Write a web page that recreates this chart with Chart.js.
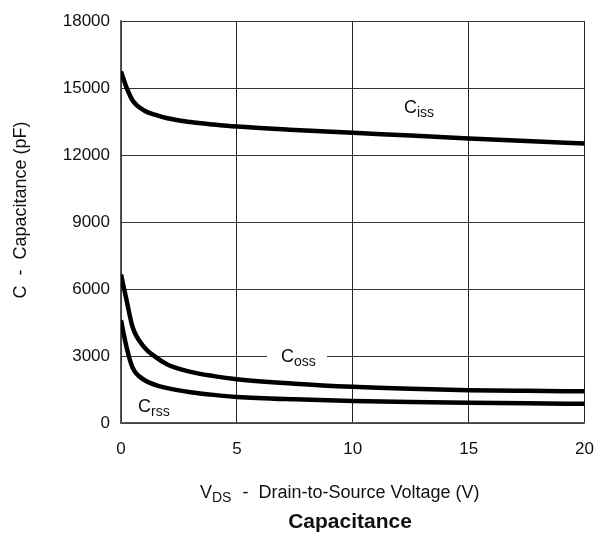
<!DOCTYPE html>
<html>
<head>
<meta charset="utf-8">
<script src="https://cdn.jsdelivr.net/npm/chart.js@4.4.1/dist/chart.umd.min.js"></script>
<style>
  html, body { margin: 0; padding: 0; background: #fff; }
  #wrap { width: 610px; height: 535px; }
</style>
</head>
<body>
<div id="wrap"><canvas id="cap"></canvas></div>
<script>
// tensão dreno-fonte (V) e capacitâncias (pF)
const vds = [0, 0.25, 0.5, 1, 1.5, 2, 3, 4, 5, 7.5, 10, 12.5, 15, 17.5, 20];
const ciss = [15750, 15000, 14450, 14000, 13800, 13650, 13480, 13370, 13280, 13130, 13000, 12880, 12750, 12630, 12520];
const coss = [6650, 5450, 4300, 3400, 2950, 2620, 2290, 2100, 1960, 1760, 1620, 1530, 1470, 1440, 1420];
const crss = [4600, 3350, 2480, 1930, 1700, 1560, 1380, 1260, 1170, 1060, 990, 940, 905, 880, 860];
const xTicks = [0, 5, 10, 15, 20];
const yTicks = [0, 3000, 6000, 9000, 12000, 15000, 18000];

const FONT = "'Liberation Sans', Arial, Helvetica, sans-serif";

function pts(ys) {
  return vds.map((v, i) => ({ x: v, y: ys[i] }));
}

// escreve "C" + subscrito
function subText(ctx, main, sub, x, y, size) {
  ctx.font = size + 'px ' + FONT;
  ctx.fillText(main, x, y);
  const w = ctx.measureText(main).width;
  ctx.font = Math.round(size * 0.8) + 'px ' + FONT;
  ctx.fillText(sub, x + w, y + size * 0.3);
  return w + ctx.measureText(sub).width;
}

const labelsPlugin = {
  id: 'labels',
  beforeDatasetsDraw(chart) {
    const ctx = chart.ctx;
    const ys = chart.scales.y;
    // fundo branco atrás do rótulo Coss (interrompe a linha de grade)
    ctx.save();
    ctx.fillStyle = '#fff';
    ctx.fillRect(267, ys.getPixelForValue(3000) - 3, 60, 6);
    ctx.restore();
  },
  afterDraw(chart) {
    const ctx = chart.ctx;
    ctx.save();
    ctx.fillStyle = '#111';
    ctx.textBaseline = 'middle';
    ctx.textAlign = 'left';
    subText(ctx, 'C', 'iss', 404, 108, 18);
    subText(ctx, 'C', 'oss', 281, 357, 18);
    subText(ctx, 'C', 'rss', 138, 407, 18);

    // título do eixo x
    const w1 = subText(ctx, 'V', 'DS', 200, 493, 18);
    ctx.font = '18px ' + FONT;
    ctx.fillText('  -  Drain-to-Source Voltage (V)', 200 + w1 + 1, 493);

    ctx.font = 'bold 21px ' + FONT;
    ctx.textAlign = 'center';
    ctx.fillText('Capacitance', 350, 522);

    // título do eixo y
    ctx.translate(21, 210);
    ctx.rotate(-Math.PI / 2);
    ctx.textAlign = 'center';
    ctx.font = '18px ' + FONT;
    ctx.fillText('C  -  Capacitance (pF)', 0, 0);
    ctx.restore();
  }
};

const lineStyle = {
  borderColor: '#000',
  borderWidth: 4.5,
  pointRadius: 0,
  fill: false,
  cubicInterpolationMode: 'monotone'
};

new Chart(document.getElementById('cap'), {
  type: 'line',
  data: {
    datasets: [
      Object.assign({ label: 'Ciss', data: pts(ciss) }, lineStyle),
      Object.assign({ label: 'Coss', data: pts(coss) }, lineStyle),
      Object.assign({ label: 'Crss', data: pts(crss) }, lineStyle)
    ]
  },
  options: {
    responsive: true,
    maintainAspectRatio: false,
    animation: false,
    layout: { padding: { top: 19, right: 25, left: 0, bottom: 0 } },
    plugins: { legend: { display: false }, tooltip: { enabled: false } },
    scales: {
      x: {
        type: 'linear',
        min: 0,
        max: 20,
        afterBuildTicks: s => { s.ticks = xTicks.map(v => ({ value: v })); },
        afterFit: s => { s.height = 112; },
        grid: { color: '#222', lineWidth: 1, drawTicks: false },
        border: { color: '#555', width: 1.5 },
        ticks: { color: '#111', padding: 16, font: { family: FONT, size: 17 } }
      },
      y: {
        type: 'linear',
        min: 0,
        max: 18000,
        afterBuildTicks: s => { s.ticks = yTicks.map(v => ({ value: v })); },
        afterFit: s => { s.width = 121; },
        grid: { color: '#333', lineWidth: 1, drawTicks: false },
        border: { color: '#555', width: 1.5 },
        ticks: { color: '#111', padding: 11, font: { family: FONT, size: 17 }, callback: v => String(v) }
      }
    }
  },
  plugins: [labelsPlugin]
});
</script>
</body>
</html>
